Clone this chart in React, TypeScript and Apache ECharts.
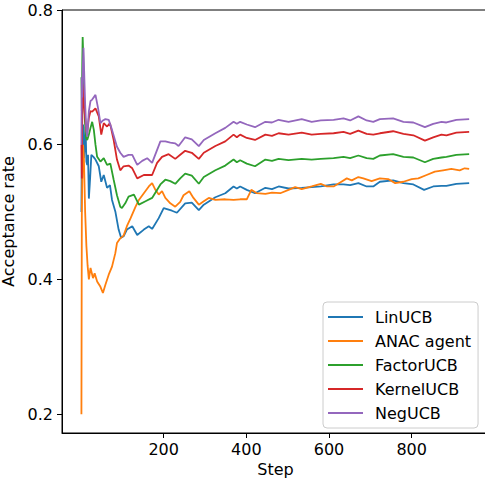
import React, { useEffect, useRef } from "react";
import * as echarts from "echarts";

const seriesNames = ["LinUCB", "ANAC agent", "FactorUCB", "KernelUCB", "NegUCB"];
const seriesColors = ["#1f77b4", "#ff7f0e", "#2ca02c", "#d62728", "#9467bd"];
const xTicks = [200, 400, 600, 800];
const yTicks = [0.2, 0.4, 0.6, 0.8];

const linUCB = [
  [1, 0.5], [2, 0.6], [3, 0.55], [5, 0.63], [7, 0.58], [9, 0.6], [11, 0.627], [13, 0.575], [15, 0.57], [17, 0.585],
  [19, 0.52], [22, 0.55], [25, 0.585], [30, 0.582], [35, 0.578], [43, 0.568], [49, 0.545], [55, 0.555], [63, 0.536],
  [70, 0.54], [75, 0.518], [83, 0.501], [91, 0.474], [97, 0.462], [103, 0.464], [111, 0.474], [124, 0.479], [136, 0.466],
  [152, 0.474], [164, 0.479], [172, 0.475], [188, 0.491], [200, 0.506], [210, 0.504], [220, 0.502], [232, 0.499],
  [252, 0.513], [268, 0.514], [285, 0.503], [297, 0.511], [325, 0.522], [349, 0.528], [369, 0.538], [377, 0.535],
  [385, 0.538], [401, 0.533], [421, 0.528], [446, 0.536], [462, 0.534], [478, 0.538], [502, 0.535], [534, 0.536],
  [558, 0.537], [580, 0.538], [611, 0.541], [635, 0.541], [651, 0.54], [671, 0.543], [691, 0.538], [707, 0.538],
  [723, 0.545], [755, 0.547], [780, 0.543], [804, 0.541], [830, 0.533], [852, 0.538], [872, 0.539], [884, 0.539],
  [908, 0.542], [939, 0.543],
];

const anacAgent = [
  [1, 0.2], [2, 0.5], [3, 0.55], [5, 0.6], [7, 0.58], [10, 0.5], [13, 0.45], [16, 0.42], [19, 0.4], [23, 0.417],
  [29, 0.402], [33, 0.409], [39, 0.397], [47, 0.389], [53, 0.38], [59, 0.392], [67, 0.407], [75, 0.419], [83, 0.439],
  [87, 0.454], [95, 0.461], [103, 0.465], [111, 0.479], [120, 0.491], [132, 0.508], [140, 0.518], [152, 0.528],
  [164, 0.538], [172, 0.543], [180, 0.533], [188, 0.526], [196, 0.531], [204, 0.521], [216, 0.513], [228, 0.508],
  [240, 0.515], [248, 0.525], [262, 0.531], [272, 0.521], [285, 0.511], [297, 0.516], [309, 0.521], [325, 0.518],
  [349, 0.519], [369, 0.518], [385, 0.519], [401, 0.519], [412, 0.533], [425, 0.528], [446, 0.527], [462, 0.529],
  [482, 0.528], [502, 0.533], [518, 0.537], [534, 0.534], [558, 0.538], [580, 0.542], [595, 0.538], [611, 0.538],
  [627, 0.544], [643, 0.55], [655, 0.547], [671, 0.552], [683, 0.55], [703, 0.546], [723, 0.55], [743, 0.549],
  [760, 0.543], [780, 0.545], [800, 0.549], [816, 0.55], [836, 0.555], [856, 0.56], [876, 0.562], [896, 0.564],
  [916, 0.562], [928, 0.565], [939, 0.564],
];

const factorUCB = [
  [1, 0.7], [2, 0.65], [3, 0.72], [4, 0.76], [5, 0.74], [7, 0.68], [9, 0.64], [12, 0.61], [15, 0.607], [19, 0.615],
  [23, 0.625], [27, 0.634], [31, 0.622], [35, 0.6], [39, 0.582], [47, 0.575], [55, 0.58], [63, 0.57], [71, 0.572],
  [79, 0.548], [87, 0.525], [95, 0.508], [99, 0.506], [107, 0.513], [115, 0.523], [128, 0.526], [140, 0.511],
  [156, 0.516], [172, 0.521], [192, 0.541], [204, 0.548], [216, 0.546], [228, 0.542], [240, 0.55], [252, 0.557],
  [268, 0.554], [285, 0.542], [297, 0.552], [325, 0.562], [349, 0.569], [369, 0.578], [377, 0.574], [385, 0.577],
  [401, 0.572], [421, 0.568], [446, 0.578], [462, 0.576], [478, 0.579], [502, 0.577], [534, 0.579], [558, 0.578],
  [580, 0.579], [611, 0.58], [635, 0.582], [651, 0.58], [671, 0.584], [691, 0.58], [707, 0.579], [723, 0.584],
  [755, 0.586], [780, 0.582], [804, 0.581], [832, 0.574], [852, 0.579], [872, 0.581], [884, 0.582], [908, 0.585],
  [939, 0.586],
];

const kernelUCB = [
  [1, 0.6], [2, 0.55], [3, 0.64], [4, 0.69], [5, 0.68], [7, 0.66], [10, 0.64], [13, 0.62], [15, 0.618], [19, 0.64],
  [23, 0.65], [27, 0.649], [35, 0.654], [43, 0.642], [49, 0.615], [55, 0.632], [63, 0.627], [70, 0.632], [79, 0.607],
  [87, 0.578], [95, 0.562], [103, 0.568], [115, 0.569], [124, 0.565], [136, 0.55], [152, 0.555], [172, 0.555],
  [184, 0.573], [196, 0.582], [212, 0.586], [228, 0.579], [240, 0.585], [252, 0.591], [268, 0.588], [285, 0.579],
  [297, 0.588], [325, 0.598], [349, 0.605], [369, 0.615], [377, 0.611], [385, 0.615], [401, 0.61], [421, 0.607],
  [446, 0.615], [462, 0.613], [478, 0.617], [502, 0.615], [534, 0.618], [558, 0.615], [580, 0.616], [611, 0.617],
  [635, 0.619], [651, 0.616], [671, 0.621], [691, 0.616], [707, 0.615], [723, 0.617], [755, 0.62], [780, 0.616],
  [804, 0.614], [832, 0.606], [852, 0.611], [872, 0.615], [884, 0.614], [908, 0.618], [939, 0.619],
];

const negUCB = [
  [1, 0.6], [2, 0.7], [3, 0.67], [4, 0.71], [6, 0.744], [8, 0.7], [10, 0.66], [13, 0.62], [15, 0.612], [19, 0.65],
  [23, 0.665], [27, 0.667], [35, 0.674], [41, 0.655], [47, 0.632], [53, 0.636], [59, 0.638], [67, 0.637], [75, 0.622],
  [87, 0.597], [95, 0.588], [103, 0.582], [115, 0.585], [124, 0.585], [136, 0.57], [148, 0.576], [160, 0.58],
  [172, 0.573], [192, 0.605], [204, 0.605], [216, 0.603], [228, 0.602], [236, 0.598], [252, 0.611], [268, 0.608],
  [285, 0.598], [297, 0.607], [325, 0.617], [349, 0.625], [369, 0.634], [377, 0.631], [385, 0.634], [401, 0.63],
  [421, 0.626], [446, 0.634], [462, 0.633], [478, 0.637], [502, 0.634], [534, 0.638], [558, 0.634], [580, 0.636],
  [611, 0.637], [635, 0.639], [651, 0.636], [671, 0.642], [691, 0.636], [707, 0.634], [723, 0.638], [755, 0.639],
  [780, 0.634], [804, 0.633], [832, 0.626], [852, 0.631], [872, 0.634], [884, 0.633], [908, 0.637], [939, 0.638],
];

const allData = [linUCB, anacAgent, factorUCB, kernelUCB, negUCB];

export default function App() {
  const ref = useRef<HTMLDivElement>(null);
  useEffect(() => {
    document.body.style.margin = "0";
    const chart = echarts.init(ref.current!, null, { renderer: "svg" });
    const font = "DejaVu Sans";
    chart.setOption({
      animation: false,
      textStyle: { fontFamily: font },
      grid: {
        left: 62,
        top: 10,
        width: 427,
        height: 423,
        show: true,
        borderColor: "#000",
        borderWidth: 1,
        backgroundColor: "transparent",
        outerBoundsMode: "none",
        containLabel: false,
      },
      xAxis: {
        type: "value",
        min: -46,
        max: 987,
        name: "Step",
        nameLocation: "middle",
        nameGap: 26,
        nameTextStyle: { fontSize: 16, color: "#000", fontFamily: font },
        axisLine: { show: true, onZero: false, lineStyle: { color: "#000", width: 1 } },
        axisTick: { show: true, length: 5, lineStyle: { color: "#000" }, customValues: xTicks },
        axisLabel: { fontSize: 16, color: "#000", margin: 8, customValues: xTicks, fontFamily: font },
        splitLine: { show: false },
      },
      yAxis: {
        type: "value",
        min: 0.172,
        max: 0.8,
        name: "Acceptance rate",
        nameLocation: "middle",
        nameGap: 33,
        nameTextStyle: { fontSize: 16, color: "#000", fontFamily: font },
        axisLine: { show: true, onZero: false, lineStyle: { color: "#000", width: 1 } },
        axisTick: { show: true, length: 5, lineStyle: { color: "#000" }, customValues: yTicks },
        axisLabel: {
          fontSize: 16,
          color: "#000",
          margin: 9,
          customValues: yTicks,
          fontFamily: font,
          formatter: (v: number) => v.toFixed(1),
        },
        splitLine: { show: false },
      },
      legend: {
        orient: "vertical",
        left: 323,
        top: 302,
        padding: [6, 7, 6, 5],
        itemGap: 6,
        itemWidth: 35,
        itemHeight: 2,
        icon: "rect",
        backgroundColor: "rgba(255,255,255,0.8)",
        borderColor: "#cccccc",
        borderWidth: 1,
        borderRadius: 4,
        textStyle: { fontSize: 16, color: "#000", fontFamily: font, lineHeight: 18, padding: [0, 0, 0, 7] },
        data: seriesNames,
      },
      series: allData.map((d, i) => ({
        name: seriesNames[i],
        type: "line",
        data: d,
        symbol: "none",
        color: seriesColors[i],
        lineStyle: { width: 1.8, color: seriesColors[i] },
        z: 2 + i,
      })),
    });
    return () => chart.dispose();
  }, []);
  return <div ref={ref} style={{ width: 485, height: 480 }} />;
}
